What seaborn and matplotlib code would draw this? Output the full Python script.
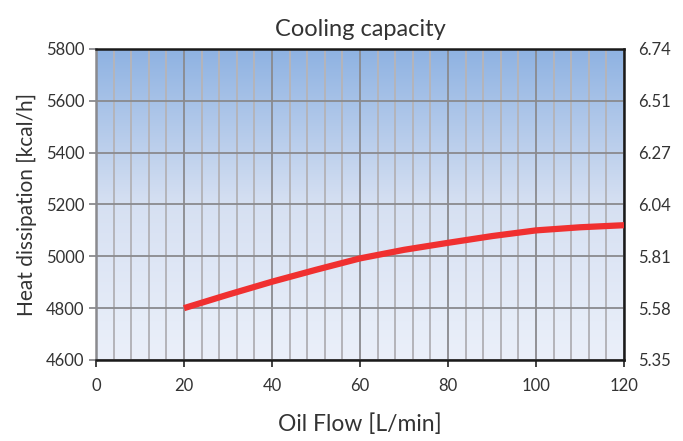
import numpy as np
import pandas as pd
import seaborn as sns
import matplotlib.pyplot as plt
from matplotlib.colors import LinearSegmentedColormap
from matplotlib.ticker import MultipleLocator

flow = [20, 30, 40, 50, 60, 70, 80, 90, 100, 110, 120]
heat = [4800, 4852, 4902, 4948, 4992, 5025, 5052, 5078, 5100, 5112, 5120]
left_ticks = [4600, 4800, 5000, 5200, 5400, 5600, 5800]
right_labels = ["5.35", "5.58", "5.81", "6.04", "6.27", "6.51", "6.74"]
x_ticks = [0, 20, 40, 60, 80, 100, 120]

sns.set_style("white")
plt.rcParams['font.family'] = ['Lato', 'DejaVu Sans']

fig = plt.figure(figsize=(6.83, 4.41), dpi=100)
ax = fig.add_axes([0.1406, 0.1837, 0.7730, 0.7053])

cmap = LinearSegmentedColormap.from_list("bg", ["#ebf0fa", "#d6e0f2", "#8eb2e2"])
grad = np.linspace(0, 1, 256).reshape(-1, 1)
ax.imshow(grad, cmap=cmap, aspect="auto", origin="lower",
          extent=[0, 120, 4600, 5800], zorder=0)

df = pd.DataFrame({"flow": flow, "heat": heat})
sns.lineplot(data=df, x="flow", y="heat", ax=ax, color="#f03030", lw=4.5,
             zorder=5, solid_capstyle="butt")

ax.set_xlim(0, 120)
ax.set_ylim(4600, 5800)
ax.set_xticks(x_ticks)
ax.set_yticks(left_ticks)
ax.xaxis.set_minor_locator(MultipleLocator(4))
ax.grid(which="major", axis="both", color="#8a8a8e", lw=1.3, zorder=1)
ax.grid(which="minor", axis="x", color="#b4b4ba", lw=1.4, zorder=1)
for l in ax.get_xgridlines() + ax.get_ygridlines():
    l.set_zorder(1)

for s in ["top", "right", "bottom"]:
    ax.spines[s].set_color("#1a1a1a")
    ax.spines[s].set_linewidth(1.8)
ax.spines["left"].set_color("#8a8a8e")
ax.spines["left"].set_linewidth(1.8)

ax.tick_params(axis="both", which="major", length=5, width=1.3, color="#333333",
               labelsize=12, labelcolor="#333333", direction="out")
ax.tick_params(axis="x", which="minor", length=0)
ax.tick_params(axis="y", left=True, length=5, color="#8a8a8e")
ax.tick_params(axis="x", bottom=True, pad=8)

ax.set_xlabel("Oil Flow [L/min]", fontsize=16.5, color="#333333", labelpad=14)
ax.set_ylabel("Heat dissipation [kcal/h]", fontsize=15, color="#333333", labelpad=6)
ax.set_title("Cooling capacity", fontsize=17, color="#333333", pad=9)

ax2 = ax.twinx()
ax2.set_ylim(4600, 5800)
ax2.set_yticks(left_ticks)
ax2.set_yticklabels(right_labels)
ax2.tick_params(axis="y", length=0, labelsize=12, labelcolor="#333333", pad=10)
for s in ax2.spines.values():
    s.set_visible(False)
ax2.grid(False)

fig.savefig("out.png", dpi=100)
